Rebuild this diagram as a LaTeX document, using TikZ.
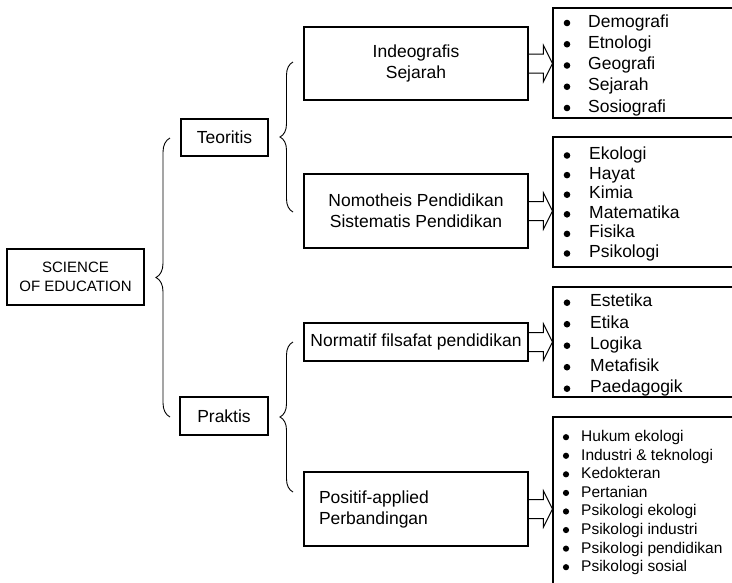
\documentclass[tikz,border=0pt]{standalone}
\usepackage{fontspec}
\setmainfont{Liberation Sans}
\usetikzlibrary{decorations.pathreplacing,calc}
\newcommand\mainsz{\fontsize{17.5pt}{21pt}\selectfont}
\newcommand\scisz{\fontsize{15pt}{19pt}\selectfont}
\newcommand\smallsz{\fontsize{15.5pt}{18.5pt}\selectfont}
\begin{document}
\begin{tikzpicture}[x=1pt,y=-1pt,
  box/.style={draw, line width=1.1pt, inner sep=0pt, align=center, font=\mainsz},
  listbox/.style={draw, line width=1.1pt, inner sep=0pt, minimum width=207pt},
  item/.style={anchor=base west, inner sep=0pt, font=\mainsz},
  smallitem/.style={anchor=base west, inner sep=0pt, font=\smallsz},
  brc/.style={decorate, decoration={brace, amplitude=#1}, line width=0.9pt},
  fat/.style={line width=1pt}]
\useasboundingbox (0,0) rectangle (732,582);
\clip (0,0) rectangle (732,582);

% main boxes
\node[box, minimum width=137pt, minimum height=56pt, font=\scisz] (sci) at (75.5,277) {SCIENCE\\OF EDUCATION};
\node[box, minimum width=87pt, minimum height=37pt] (teo) at (224.5,137.5) {Teoritis};
\node[box, minimum width=88pt, minimum height=38pt] (pra) at (224,416) {Praktis};
\node[box, minimum width=224pt, minimum height=73pt] (ind) at (416,63.5) {Indeografis\\Sejarah};
\node[box, minimum width=224pt, minimum height=74pt] (nom) at (416,211) {Nomotheis Pendidikan\\Sistematis Pendidikan};
\node[box, minimum width=224pt, minimum height=38pt] (nor) at (416,342) {Normatif filsafat pendidikan};
\node[box, minimum width=224pt, minimum height=74pt, text width=194pt, inner xsep=15pt, align=left] (pos) at (416,509) {Positif-applied\\Perbandingan};

% list boxes
\node[listbox, minimum height=110pt] (l1) at (656.5,63) {};
\node[listbox, minimum height=130pt] (l2) at (656.5,202) {};
\node[listbox, minimum height=110pt] (l3) at (656.5,342) {};
\node[listbox, minimum height=203pt] (l4) at (656.5,518.5) {};

% braces
\coordinate (b0a) at (170,417); \coordinate (b0b) at (170,138);
\coordinate (b1a) at (293,212); \coordinate (b1b) at (293,62);
\coordinate (b2a) at (293,492); \coordinate (b2b) at (293,342);
\draw[brc=14pt] (b0a) -- (b0b);
\draw[brc=13pt] (b1a) -- (b1b);
\draw[brc=13pt] (b2a) -- (b2b);

% hollow arrows
\newcommand\fatarrow[2]{%
  \draw[fat] let \p1=(#1.east), \p2=(#2.west) in
    (\x1,\y1+9.5pt) -- (\x2-9pt,\y1+9.5pt) -- (\x2-9pt,\y1+18pt) -- (\x2,\y1)
    -- (\x2-9pt,\y1-18pt) -- (\x2-9pt,\y1-9.5pt) -- (\x1,\y1-9.5pt);}
\fatarrow{ind}{l1}
\fatarrow{nom}{l2}
\fatarrow{nor}{l3}
\fatarrow{pos}{l4}

% list items
\foreach \t [count=\i] in {Demografi,Etnologi,Geografi,Sejarah,Sosiografi}{
  \node[item] (a\i) at (588,{27+21.25*(\i-1)}) {\t};
  \fill (567,{23+21.25*(\i-1)}) circle (3.3);}
\foreach \t [count=\i] in {Ekologi,Hayat,Kimia,Matematika,Fisika,Psikologi}{
  \node[item] (b\i) at (589,{159.5+19.6*(\i-1)}) {\t};
  \fill (567,{155.5+19.6*(\i-1)}) circle (3.3);}
\foreach \t [count=\i] in {Estetika,Etika,Logika,Metafisik,Paedagogik}{
  \node[item] (c\i) at (590,{306.7+21.5*(\i-1)}) {\t};
  \fill (567,{302.7+21.5*(\i-1)}) circle (3.3);}
\foreach \t [count=\i] in {Hukum ekologi,Industri \& teknologi,Kedokteran,Pertanian,Psikologi ekologi,Psikologi industri,Psikologi pendidikan,Psikologi sosial}{
  \node[smallitem] (d\i) at (581,{441.7+18.57*(\i-1)}) {\t};
  \fill (566,{437.2+18.57*(\i-1)}) circle (3.1);}
\end{tikzpicture}
\end{document}
